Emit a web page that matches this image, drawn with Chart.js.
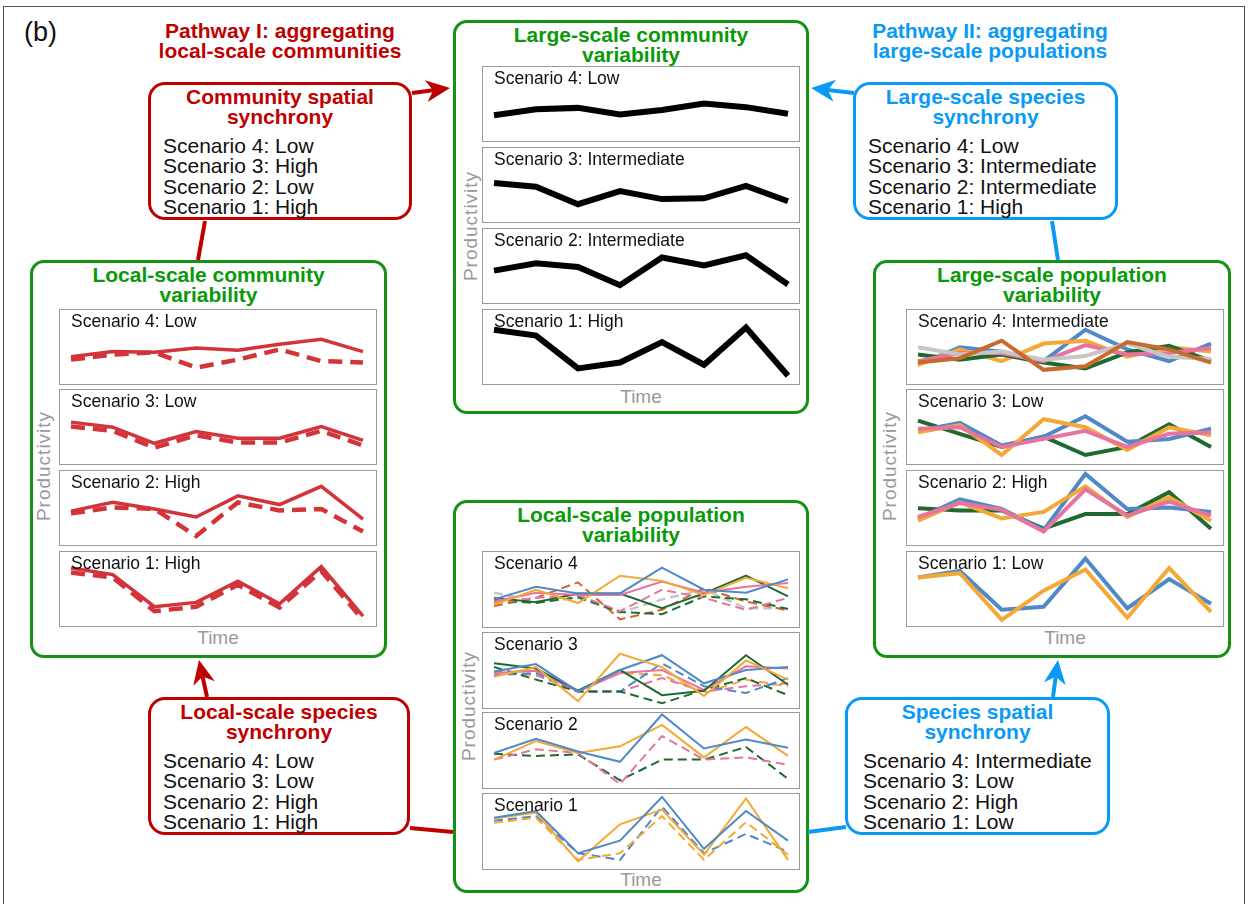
<!DOCTYPE html>
<html>
<head>
<meta charset="utf-8">
<script src="https://cdn.jsdelivr.net/npm/chart.js@4.4.0/dist/chart.umd.min.js"></script>
<style>
  body { margin: 0; background: #fff; font-family: "Liberation Sans", Arial, sans-serif; }
  #stage { position: relative; width: 1248px; height: 904px; overflow: hidden; }
  .frame { position: absolute; left: 3px; top: 6px; width: 1242px; height: 920px; border: 1.5px solid #555; box-sizing: border-box; }
  .tag { position: absolute; left: 24px; top: 17px; font-size: 27px; color: #111; }
  .panel { position: absolute; border: 3px solid #149214; border-radius: 14px; box-sizing: border-box; background: #fff; }
  .ptitle { position: absolute; text-align: center; color: #0a990a; font-weight: bold; font-size: 21px; line-height: 20.3px; }
  .sub { position: absolute; border: 1.5px solid #9a9a9a; box-sizing: border-box; background: #fff; }
  .sub canvas { position: absolute; left: 0; top: 0; }
  .slabel { position: absolute; left: 11px; top: 1px; font-size: 17.5px; color: #111; white-space: nowrap; z-index: 2; }
  .time { position: absolute; text-align: center; color: #999; font-size: 19px; line-height: 20px; }
  .prod { position: absolute; color: #999; font-size: 19px; letter-spacing: 1px; white-space: nowrap;
          transform: translate(-50%, -50%) rotate(-90deg); }
  .box { position: absolute; border: 3px solid; border-radius: 17px; box-sizing: border-box; background: #fff; }
  .btitle { position: absolute; left: 0; right: 0; top: 3px; text-align: center; font-weight: bold; font-size: 21px; line-height: 20.3px; }
  .bbody { position: absolute; top: 52px; font-size: 21px; line-height: 20.4px; color: #111; white-space: nowrap; }
  .path { position: absolute; text-align: center; font-weight: bold; font-size: 21px; line-height: 20.3px; }
  svg { position: absolute; left: 0; top: 0; z-index: 5; }
</style>
</head>
<body>
<div id="stage">
  <div class="frame"></div>
  <div class="tag">(b)</div>
</div>
<script>
const timeSteps = [1, 2, 3, 4, 5, 6, 7, 8];

const red = "#c00000";
const blue = "#0a9af5";
const commRed = "#d3343a";
const cBlue = "#4f89c8";
const cOrange = "#f4a836";
const cGreen = "#1f6a31";
const cPink = "#e8739f";
const cGray = "#c6c6c6";
const cBrown = "#c9692b";

// large-scale community variability (scenario 4..1)
const bigComm4 = [34, 42, 44, 35, 41, 50, 45, 36];
const bigComm3 = [52, 47, 23, 41, 30, 31, 48, 27];
const bigComm2 = [43, 53, 48, 23, 61, 50, 64, 24];
const bigComm1 = [73, 65, 20, 28, 56, 25, 76, 10];

// local-scale community variability: site A solid, site B dashed
const locComm4A = [36, 43, 42, 48, 45, 53, 60, 43];
const locComm4B = [32, 39, 42, 21, 32, 46, 30, 28];
const locComm3A = [56, 49, 27, 43, 34, 34, 50, 31];
const locComm3B = [50, 44, 21, 38, 28, 28, 44, 24];
const locComm2A = [45, 57, 48, 37, 66, 54, 79, 34];
const locComm2B = [42, 50, 48, 11, 57, 46, 48, 17];
const locComm1A = [78, 69, 25, 31, 60, 29, 80, 12];
const locComm1B = [72, 65, 19, 25, 55, 24, 74, 7];

// local-scale population variability
const locPop4Blue = [36, 53, 44, 44, 79, 49, 45, 63];
const locPop4Orange = [29, 49, 31, 68, 61, 42, 65, 51];
const locPop4Pink = [33, 45, 42, 42, 60, 45, 53, 58];
const locPop4Green = [38, 32, 44, 44, 24, 44, 68, 40];
const locPop4GrayD = [45, 33, 38, 18, 36, 49, 24, 24];
const locPop4BrownD = [27, 38, 59, 9, 22, 51, 33, 21];
const locPop4GreenD = [35, 31, 39, 19, 16, 40, 36, 23];
const locPop4PinkD = [31, 38, 42, 20, 49, 38, 22, 38];

const locPop3Green = [59, 52, 22, 50, 16, 22, 70, 30];
const locPop3Orange = [41, 54, 8, 72, 54, 15, 63, 37];
const locPop3Blue = [48, 58, 21, 50, 70, 32, 50, 54];
const locPop3Pink = [46, 49, 21, 46, 50, 23, 55, 52];
const locPop3GreenD = [54, 37, 21, 21, 5, 23, 39, 16];
const locPop3BlueD = [43, 46, 21, 21, 59, 28, 19, 39];
const locPop3PinkD = [48, 43, 21, 21, 39, 21, 28, 32];
const locPop3OrangeD = [46, 50, 21, 46, 43, 19, 37, 28];

const locPop2Blue = [46, 65, 48, 34, 98, 52, 64, 53];
const locPop2Orange = [37, 62, 46, 55, 84, 40, 81, 42];
const locPop2PinkD = [37, 51, 46, 4, 69, 37, 40, 30];
const locPop2GreenD = [45, 42, 44, 9, 37, 37, 54, 11];

const locPop1Blue = [68, 77, 20, 37, 96, 26, 77, 37];
const locPop1Orange = [67, 75, 9, 59, 79, 18, 94, 11];
const locPop1OrangeD = [61, 68, 11, 20, 70, 11, 62, 18];
const locPop1BlueD = [64, 70, 20, 11, 83, 20, 46, 22];

// large-scale population variability
const bigPop4Blue = [25, 49, 43, 30, 73, 46, 30, 54];
const bigPop4Orange = [25, 46, 30, 54, 58, 36, 49, 43];
const bigPop4Green = [39, 32, 39, 28, 20, 42, 51, 30];
const bigPop4Pink = [30, 41, 41, 30, 52, 39, 41, 48];
const bigPop4Gray = [49, 39, 43, 32, 37, 54, 36, 33];
const bigPop4Brown = [28, 34, 58, 18, 23, 56, 46, 28];

const bigPop3Blue = [44, 55, 24, 36, 64, 29, 33, 47];
const bigPop3Orange = [42, 52, 11, 60, 49, 18, 49, 38];
const bigPop3Green = [58, 40, 22, 36, 11, 22, 53, 22];
const bigPop3Pink = [47, 49, 22, 33, 44, 22, 40, 42];

const bigPop2Blue = [35, 61, 48, 19, 96, 48, 50, 44];
const bigPop2Orange = [32, 57, 35, 44, 79, 37, 64, 32];
const bigPop2Green = [49, 46, 46, 21, 41, 41, 71, 21];
const bigPop2Pink = [37, 56, 47, 17, 75, 39, 58, 39];

const bigPop1Blue = [65, 74, 21, 25, 91, 23, 63, 29];
const bigPop1Orange = [65, 71, 7, 47, 76, 10, 78, 18];

const bigCommLabels = ["Scenario 4: Low", "Scenario 3: Intermediate", "Scenario 2: Intermediate", "Scenario 1: High"];
const locCommLabels = ["Scenario 4: Low", "Scenario 3: Low", "Scenario 2: High", "Scenario 1: High"];
const locPopLabels = ["Scenario 4", "Scenario 3", "Scenario 2", "Scenario 1"];
const bigPopLabels = ["Scenario 4: Intermediate", "Scenario 3: Low", "Scenario 2: High", "Scenario 1: Low"];

const stage = document.getElementById("stage");

function el(cls, css, html) {
    const d = document.createElement("div");
    d.className = cls;
    Object.assign(d.style, css);
    if (html !== undefined) d.innerHTML = html;
    stage.appendChild(d);
    return d;
}

function ln(data, color, width, dash) {
    return { data: data, borderColor: color, borderWidth: width, borderDash: dash || [], fill: false };
}

function makeChart(canvas, datasets, pad) {
    return new Chart(canvas, {
        type: "line",
        data: { labels: timeSteps, datasets: datasets },
        options: {
            responsive: false,
            animation: false,
            devicePixelRatio: 1,
            layout: { padding: { left: pad[0], right: pad[1], top: 0, bottom: 0 } },
            plugins: { legend: { display: false }, tooltip: { enabled: false } },
            elements: { point: { radius: 0 }, line: { tension: 0, borderCapStyle: "butt" } },
            scales: {
                x: { display: false },
                y: { display: false, min: 0, max: 100 },
            },
        },
    });
}

function makePanel(p) {
    el("panel", { left: p.x + "px", top: p.y + "px", width: p.w + "px", height: p.h + "px" });
    el("ptitle", { left: p.x + "px", top: (p.y + 5) + "px", width: p.w + "px" }, p.title);
    p.subY.forEach((sy, i) => {
        const s = el("sub", { left: p.subX + "px", top: sy + "px", width: p.subW + "px", height: p.subH + "px" });
        const c = document.createElement("canvas");
        c.width = p.subW - 3;
        c.height = p.subH - 3;
        s.appendChild(c);
        const lab = document.createElement("div");
        lab.className = "slabel";
        lab.textContent = p.labels[i];
        s.appendChild(lab);
        makeChart(c, p.series[i], p.pad);
    });
    el("time", { left: p.subX + "px", top: p.timeY + "px", width: p.subW + "px" }, "Time");
    el("prod", { left: p.prodX + "px", top: p.prodY + "px" }, "Productivity");
}

makePanel({
    title: "Large-scale community<br>variability",
    x: 453, y: 20, w: 356, h: 394,
    subX: 482, subW: 318, subY: [66, 147, 228, 309], subH: 76,
    timeY: 387, prodX: 471, prodY: 226, pad: [11, 10],
    labels: bigCommLabels,
    series: [
        [ln(bigComm4, "#000", 6)],
        [ln(bigComm3, "#000", 6)],
        [ln(bigComm2, "#000", 6)],
        [ln(bigComm1, "#000", 6)],
    ],
});

makePanel({
    title: "Local-scale community<br>variability",
    x: 30, y: 260, w: 357, h: 398,
    subX: 59, subW: 318, subY: [309, 389, 470, 551], subH: 76,
    timeY: 628, prodX: 44, prodY: 466, pad: [11, 12],
    labels: locCommLabels,
    series: [
        [ln(locComm4A, commRed, 3.5), ln(locComm4B, commRed, 4.5, [14, 8])],
        [ln(locComm3A, commRed, 3.5), ln(locComm3B, commRed, 4.5, [14, 8])],
        [ln(locComm2A, commRed, 3.5), ln(locComm2B, commRed, 4.5, [14, 8])],
        [ln(locComm1A, commRed, 3.5), ln(locComm1B, commRed, 4.5, [14, 8])],
    ],
});

const dsh = [9, 5];
makePanel({
    title: "Local-scale population<br>variability",
    x: 453, y: 500, w: 356, h: 393,
    subX: 482, subW: 318, subY: [551, 632, 712, 793], subH: 77,
    timeY: 870, prodX: 469, prodY: 706, pad: [11, 10],
    labels: locPopLabels,
    series: [
        [ln(locPop4Blue, cBlue, 2), ln(locPop4Orange, cOrange, 2), ln(locPop4Pink, cPink, 2), ln(locPop4Green, cGreen, 2),
         ln(locPop4PinkD, cPink, 2, dsh), ln(locPop4GreenD, cGreen, 2, dsh), ln(locPop4BrownD, cBrown, 2, dsh), ln(locPop4GrayD, cGray, 2.5, dsh)],
        [ln(locPop3Orange, cOrange, 2), ln(locPop3Blue, cBlue, 2), ln(locPop3Green, cGreen, 2), ln(locPop3Pink, cPink, 2),
         ln(locPop3GreenD, cGreen, 2, dsh), ln(locPop3BlueD, cBlue, 2, dsh), ln(locPop3PinkD, cPink, 2, dsh), ln(locPop3OrangeD, cOrange, 2, dsh)],
        [ln(locPop2Blue, cBlue, 2), ln(locPop2Orange, cOrange, 2), ln(locPop2PinkD, cPink, 2, dsh), ln(locPop2GreenD, cGreen, 2, dsh)],
        [ln(locPop1Blue, cBlue, 2), ln(locPop1Orange, cOrange, 2), ln(locPop1OrangeD, cOrange, 2, dsh), ln(locPop1BlueD, cBlue, 2, dsh)],
    ],
});

makePanel({
    title: "Large-scale population<br>variability",
    x: 873, y: 260, w: 358, h: 398,
    subX: 906, subW: 318, subY: [309, 389, 470, 551], subH: 76,
    timeY: 628, prodX: 890, prodY: 466, pad: [11, 11],
    labels: bigPopLabels,
    series: [
        [ln(bigPop4Brown, cBrown, 4), ln(bigPop4Gray, cGray, 4), ln(bigPop4Pink, cPink, 4), ln(bigPop4Green, cGreen, 4),
         ln(bigPop4Orange, cOrange, 4), ln(bigPop4Blue, cBlue, 4)],
        [ln(bigPop3Pink, cPink, 4), ln(bigPop3Orange, cOrange, 4), ln(bigPop3Blue, cBlue, 4), ln(bigPop3Green, cGreen, 4)],
        [ln(bigPop2Pink, cPink, 4), ln(bigPop2Orange, cOrange, 4), ln(bigPop2Blue, cBlue, 4), ln(bigPop2Green, cGreen, 4)],
        [ln(bigPop1Orange, cOrange, 4), ln(bigPop1Blue, cBlue, 4)],
    ],
});

function makeBox(x, y, w, color, title, lines, indent) {
    el("box", { left: x + "px", top: y + "px", width: w + "px", height: "138px", borderColor: color });
    el("btitle", { left: x + "px", top: (y + 5) + "px", width: w + "px", color: color }, title);
    el("bbody", { left: (x + indent) + "px", top: (y + 54) + "px" }, lines.join("<br>"));
}

makeBox(148, 82, 264, red, "Community spatial<br>synchrony",
    ["Scenario 4: Low", "Scenario 3: High", "Scenario 2: Low", "Scenario 1: High"], 15);
makeBox(853, 82, 265, blue, "Large-scale species<br>synchrony",
    ["Scenario 4: Low", "Scenario 3: Intermediate", "Scenario 2: Intermediate", "Scenario 1: High"], 15);
makeBox(148, 697, 262, red, "Local-scale species<br>synchrony",
    ["Scenario 4: Low", "Scenario 3: Low", "Scenario 2: High", "Scenario 1: High"], 15);
makeBox(845, 697, 265, blue, "Species spatial<br>synchrony",
    ["Scenario 4: Intermediate", "Scenario 3: Low", "Scenario 2: High", "Scenario 1: Low"], 18);

el("path", { left: "130px", top: "21px", width: "300px", color: red }, "Pathway I: aggregating<br>local-scale communities");
el("path", { left: "840px", top: "21px", width: "300px", color: blue }, "Pathway II: aggregating<br>large-scale populations");

// connectors and arrows
const NS = "http://www.w3.org/2000/svg";
const svg = document.createElementNS(NS, "svg");
svg.setAttribute("width", 1248);
svg.setAttribute("height", 904);
stage.appendChild(svg);

function connect(x1, y1, x2, y2, color, head) {
    const dx = x2 - x1, dy = y2 - y1;
    const len = Math.hypot(dx, dy);
    const ux = dx / len, uy = dy / len, nx = -uy, ny = ux;
    const L = 24, W = 11, notch = 7;
    let ex = x2, ey = y2;
    if (head) { ex = x2 - ux * (L - notch); ey = y2 - uy * (L - notch); }
    const l = document.createElementNS(NS, "line");
    l.setAttribute("x1", x1); l.setAttribute("y1", y1);
    l.setAttribute("x2", ex); l.setAttribute("y2", ey);
    l.setAttribute("stroke", color); l.setAttribute("stroke-width", 4);
    svg.appendChild(l);
    if (head) {
        const pts = [
            [x2, y2],
            [x2 - ux * L + nx * W, y2 - uy * L + ny * W],
            [x2 - ux * (L - notch), y2 - uy * (L - notch)],
            [x2 - ux * L - nx * W, y2 - uy * L - ny * W],
        ].map(p => p.join(",")).join(" ");
        const g = document.createElementNS(NS, "polygon");
        g.setAttribute("points", pts);
        g.setAttribute("fill", color);
        svg.appendChild(g);
    }
}

connect(412, 93, 450, 88, red, true);
connect(205, 221, 198, 260, red, false);
connect(207, 697, 199, 660, red, true);
connect(410, 828, 453, 832, red, false);
connect(854, 93, 811, 88, blue, true);
connect(1052, 221, 1058, 260, blue, false);
connect(1053, 697, 1058, 660, blue, true);
connect(846, 827, 808, 832, blue, false);
</script>
</body>
</html>
